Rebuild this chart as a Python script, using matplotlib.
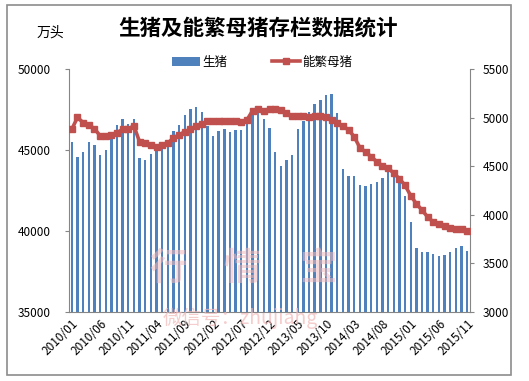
import matplotlib
matplotlib.use("Agg")
import matplotlib.pyplot as plt
from matplotlib.patches import Rectangle

plt.rcParams['font.family'] = ['Noto Sans CJK SC', 'DejaVu Sans']

# ---------- Data ----------
months = [f"{y}/{m:02d}" for y in range(2010, 2016) for m in range(1, 13)][:71]

hogs = [45512, 44586, 44895, 45512, 45309, 44691, 45000, 45784, 46543, 46914,
        46605, 46914, 44525, 44383, 44753, 44957, 45166, 45556, 46173, 46543,
        47160, 47512, 47636, 47346, 46481, 45864, 46191, 46296, 46130, 46235,
        46235, 46687, 47469, 47305, 46914, 46379, 44897, 44012, 44383, 44691,
        46296, 46790, 47346, 47819, 48086, 48395, 48457, 47305, 43847, 43395,
        43395, 42839, 42778, 42901, 43025, 43292, 43642, 43395, 43045, 42181,
        40555, 38930, 38703, 38703, 38580, 38457, 38518, 38703, 38930, 39074,
        38765]

sows = [4880, 5003, 4948, 4927, 4886, 4814, 4814, 4821, 4845, 4880,
        4886, 4914, 4749, 4736, 4721, 4701, 4718, 4736, 4793, 4821,
        4855, 4880, 4914, 4934, 4965, 4968, 4968, 4968, 4968, 4968,
        4952, 4975, 5071, 5092, 5071, 5085, 5085, 5078, 5044, 5020,
        5020, 5016, 5009, 5020, 5020, 5009, 4975, 4941, 4917, 4872,
        4804, 4690, 4646, 4598, 4546, 4505, 4481, 4427, 4371, 4303,
        4197, 4114, 4049, 3977, 3926, 3902, 3885, 3867, 3854, 3851,
        3836]

left_ticks = [35000, 40000, 45000, 50000]
right_ticks = [3000, 3500, 4000, 4500, 5000, 5500]

BAR_COLOR = "#4F81BD"
LINE_COLOR = "#C0504D"
AXIS_COLOR = "#868686"
MARK_COLOR = "#F2B8B8"

# ---------- Plot ----------
fig = plt.figure(figsize=(5.29, 3.81), dpi=100)
fig.patch.set_facecolor("white")
fig.patches.append(Rectangle((7 / 529, 1 - 375 / 381), 504 / 529, 370 / 381,
                             transform=fig.transFigure, fill=False,
                             edgecolor="#8C8C8C", linewidth=1.2))

# watermark (behind the plot)
for cx, ch in zip([168, 242, 318], "行情宝"):
    fig.text(cx / 529, 1 - 268 / 381, ch, ha="center", va="center",
             fontsize=27, color=MARK_COLOR, alpha=0.55, fontweight="bold", zorder=0)
fig.text(240 / 529, 1 - 318 / 381, "微信号：zhujiahg", ha="center", va="center",
         fontsize=14, color=MARK_COLOR, alpha=0.7, zorder=0)

ax = fig.add_axes([69 / 529, 1 - 312 / 381, 401 / 529, 243 / 381])
ax.patch.set_alpha(0)
x = list(range(len(months)))
ax.bar(x, hogs, width=0.42, color=BAR_COLOR, label="生猪", zorder=2)
ax.set_ylim(35000, 50000)
ax.set_xlim(-0.5, len(months) - 0.5)
ax.set_yticks(left_ticks)
ax.set_yticklabels([str(t) for t in left_ticks], fontsize=8.5)

ax2 = ax.twinx()
ax2.plot(x, sows, color=LINE_COLOR, linewidth=2.6, marker="s", markersize=4.5,
         label="能繁母猪", zorder=3)
ax2.set_ylim(3000, 5500)
ax2.set_yticks(right_ticks)
ax2.set_yticklabels([str(t) for t in right_ticks], fontsize=8.5)

tick_idx = list(range(0, len(months), 5))
ax.set_xticks(tick_idx)
ax.set_xticklabels([months[i] for i in tick_idx], rotation=45, ha="right",
                   rotation_mode="anchor", fontsize=8.5)

for a in (ax, ax2):
    a.spines["top"].set_visible(False)
    for s in ("left", "right", "bottom"):
        a.spines[s].set_color(AXIS_COLOR)
    a.tick_params(length=3, color=AXIS_COLOR)
ax.tick_params(axis="y", pad=10)
ax2.tick_params(axis="y", pad=6)
ax.tick_params(axis="x", length=0, pad=4)
ax.spines["right"].set_visible(False)
ax2.spines["left"].set_visible(False)
ax2.spines["bottom"].set_visible(False)

# Titles
fig.text(258 / 529, 1 - 28 / 381, "生猪及能繁母猪存栏数据统计", ha="center",
         va="center", fontsize=15.5, fontweight="bold")
fig.text(50 / 529, 1 - 33 / 381, "万头", ha="center", va="center", fontsize=10)

# Legend
h1, l1 = ax.get_legend_handles_labels()
h2, l2 = ax2.get_legend_handles_labels()
fig.legend(h1 + h2, l1 + l2, loc="center", bbox_to_anchor=(262 / 529, 1 - 62 / 381),
           ncol=2, frameon=False, fontsize=9, handlelength=2.2,
           columnspacing=3.6, handletextpad=0.2)

fig.savefig("out.png", dpi=100, facecolor="white")
